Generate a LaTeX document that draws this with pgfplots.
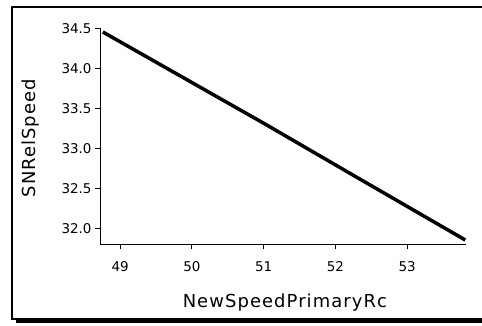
\documentclass[border=0pt]{standalone}
\usepackage{pgfplots}
\pgfplotsset{compat=1.18}
\usepackage{fontspec}
\setmainfont{DejaVu Sans}
\newfontfamily\labfont[LetterSpace=6]{DejaVu Sans}

\begin{document}
\begin{tikzpicture}[x=1bp,y=1bp]
\useasboundingbox (0,0) rectangle (482,325);
% outer frame with shadow
\fill[black] (16,2) rectangle (496,6);
\draw[line width=1.2bp] (12,6) rectangle (494,318);
\begin{axis}[
    at={(100bp,81bp)}, anchor=south west,
    scale only axis,
    width=366bp, height=216bp,
    xmin=48.72, xmax=53.82,
    ymin=31.81, ymax=34.51,
    axis x line*=bottom, axis y line*=left,
    axis line style={line width=1bp, -},
    xtick={49,50,51,52,53},
    ytick={32.0,32.5,33.0,33.5,34.0,34.5},
    tick align=outside,
    major tick length=5bp,
    tick style={line width=1bp, black},
    yticklabel style={/pgf/number format/.cd, fixed, precision=1, fixed zerofill},
    /pgf/number format/assume math mode=true,
    tick label style={font=\fontsize{13.5}{13.5}\selectfont},
    xticklabel style={yshift=-9bp},
    xlabel={NewSpeedPrimaryRc},
    ylabel={SNRelSpeed},
    label style={font=\labfont\fontsize{18}{18}\selectfont},
    xlabel style={at={(axis description cs:0.505,-0.273)}, anchor=center},
    ylabel style={at={(axis description cs:-0.191,0.49)}, anchor=center, rotate=0},
]
\addplot[black, line width=3.5bp, line join=round] coordinates {
    (48.76,34.46) (50.39,33.63) (51.00,33.32) (52.19,32.70) (53.81,31.86)
};
\end{axis}
\end{tikzpicture}
\end{document}
